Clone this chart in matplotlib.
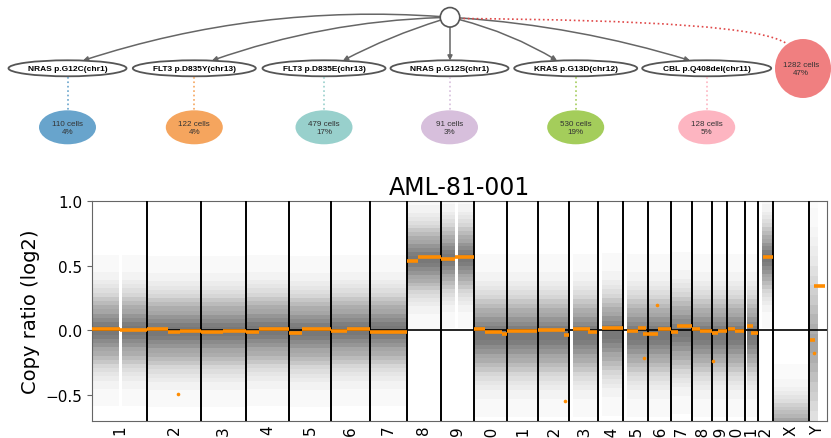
import numpy as np
import matplotlib
matplotlib.use("Agg")
import matplotlib.pyplot as plt
from matplotlib.patches import Ellipse, FancyArrowPatch, PathPatch
from matplotlib.path import Path

# clone tree data
mut_labels = ["NRAS p.G12C(chr1)", "FLT3 p.D835Y(chr13)", "FLT3 p.D835E(chr13)",
              "NRAS p.G12S(chr1)", "KRAS p.G13D(chr12)", "CBL p.Q408del(chr11)"]
leaf_cells = [110, 122, 479, 91, 530, 128]
leaf_pct = [4, 4, 17, 3, 19, 5]
leaf_colors = ["#68a4cc", "#f5a55e", "#98d0cc", "#d7bfdc", "#a4cd5b", "#fdb5c1"]
wt_cells = 1282
wt_pct = 47

# copy number data (x in plot units along the genome)
chrom_names = [str(i) for i in range(1, 23)] + ["X", "Y"]
chrom_edges = [0, 55.6, 109.3, 154.6, 197.6, 239.3, 278.3, 315, 349.3, 382.6, 415,
               446.3, 477.6, 506, 531.6, 556.3, 579, 600, 620.3, 635.6, 653.3, 666.6,
               681, 717.6, 735]

# cloud of bins: range, centre, spread, density weight
cloud_x0 = [0, 30.5, 55.6, 109.3, 154.6, 197.6, 239.3, 278.3, 315, 349.3, 366.3, 382.6,
            415, 446.3, 481.6, 510, 535.6, 556.3, 579, 600, 620.3, 635.6, 655.6, 670, 681.5, 718]
cloud_x1 = [27.6, 55.6, 109.3, 154.6, 197.6, 239.3, 278.3, 315, 349.3, 363.3, 382.6, 415,
            446.3, 477.6, 506, 531.6, 556.3, 579, 600, 620.3, 635.6, 653.3, 666.6, 680, 716.5, 726]
cloud_mid = [0.0, 0.0, -0.01, -0.01, 0.0, -0.01, 0.0, 0.0, 0.55, 0.56, 0.56, -0.04,
             -0.04, -0.04, -0.04, -0.03, -0.04, -0.04, -0.02, -0.04, -0.04, -0.04, -0.04, 0.56, -0.8, -0.1]
cloud_sd = [0.13, 0.13, 0.13, 0.13, 0.13, 0.13, 0.13, 0.13, 0.12, 0.12, 0.12, 0.14,
            0.14, 0.14, 0.14, 0.14, 0.14, 0.14, 0.14, 0.14, 0.14, 0.14, 0.14, 0.12, 0.12, 0.3]
cloud_w = [1, 1, 1, 1, 1, 1, 1, 1, 1, 1, 1, 1, 1, 1, 1, 1, 1, 1, 1, 1, 1, 1, 1, 1, 0.8, 0.5]

# segment means
seg_x0 = [0, 28.3, 55.6, 76.6, 88.3, 109.3, 131, 154.6, 167.6, 197.6, 210, 239.3, 255,
          278.3, 315, 326.3, 349.3, 363.3, 382.6, 393.3, 410, 415, 446.3, 472.3, 481.6,
          496.3, 510, 535.3, 546.3, 551.6, 556.3, 566.6, 579, 585, 600, 608.3, 620.3,
          626.6, 636.6, 643.3, 655.6, 659, 671, 718.3, 722.3]
seg_x1 = [28.3, 55.6, 76.6, 88.3, 109.3, 131, 154.6, 167.6, 197.6, 210, 239.3, 255, 278.3,
          315, 326.3, 349.3, 363.3, 382.6, 393.3, 410, 415, 445, 473.3, 477.6, 498.3,
          505.3, 531.6, 546.3, 554.3, 556.3, 566.6, 579, 586.3, 600, 608.3, 620, 626.6,
          635, 643.3, 652.6, 661.6, 666.6, 681, 723.3, 733.3]
seg_y = [0.01, 0.0, 0.01, -0.01, -0.003, -0.01, -0.003, -0.012, 0.008, -0.02, 0.008,
         -0.008, 0.008, -0.013, 0.54, 0.565, 0.55, 0.572, 0.013, -0.016, -0.026, -0.005,
         0.005, -0.036, 0.01, -0.016, 0.016, -0.005, 0.016, -0.03, -0.03, 0.008, -0.01,
         0.034, 0.01, -0.003, -0.023, -0.003, 0.008, -0.005, 0.03, -0.018, 0.567,
         -0.073, 0.345]
dot_x = [86.6, 473.6, 552.6, 565, 621.6, 722.6]
dot_y = [-0.49, -0.547, -0.215, 0.2, -0.238, -0.176]

fig = plt.figure(figsize=(8.31, 4.39), dpi=100)

# ---- tree panel, drawn in pixel units
tree = fig.add_axes([0, 0, 1, 1])
tree.set_xlim(0, 831)
tree.set_ylim(439, 0)
tree.axis("off")

node_x = [67.5, 194.3, 324, 449.5, 575.7, 706.7]
node_w = [118, 123, 123, 118, 123, 129]
arrow_x = [83, 212, 343, 450, 557, 690]
rads = [0.1, 0.08, 0.05, 0.0, -0.08, -0.06]
root = (450, 18.3)

tree.add_patch(Ellipse(root, 19.5, 19.5, fc="white", ec="#555555", lw=1.2, zorder=3))
for i in range(len(mut_labels)):
    arr = FancyArrowPatch(root, (arrow_x[i], 61.5), connectionstyle="arc3,rad=%s" % rads[i],
                          arrowstyle="-|>", mutation_scale=7, color="#666666", lw=1.1,
                          shrinkA=7, shrinkB=0)
    tree.add_patch(arr)
    tree.add_patch(Ellipse((node_x[i], 69.3), node_w[i], 16, fc="white", ec="#555555", lw=1.3))
    tree.text(node_x[i], 69.5, mut_labels[i], ha="center", va="center", fontsize=6,
              fontweight="bold", family="Liberation Sans")
    tree.plot([node_x[i], node_x[i]], [77.5, 111], ls=":", color=leaf_colors[i], lw=1.2)
    tree.add_patch(Ellipse((node_x[i], 128.3), 57, 34, fc=leaf_colors[i], ec="none"))
    tree.text(node_x[i], 128.5, "%d cells\n%d%%" % (leaf_cells[i], leaf_pct[i]), ha="center",
              va="center", fontsize=5.8, color="#333333", family="Liberation Sans", linespacing=1.2)

red_path = Path([(459, 19.5), (650, 21), (765, 28), (787, 45)],
                [Path.MOVETO, Path.CURVE4, Path.CURVE4, Path.CURVE4])
tree.add_patch(PathPatch(red_path, fc="none", ec="#e04848", lw=1.2, ls=":"))
tree.add_patch(Ellipse((803, 69.5), 56, 59, fc="#f07f80", ec="none", zorder=3))
tree.text(801, 69.5, "%d cells\n%d%%" % (wt_cells, wt_pct), ha="center", va="center",
          fontsize=5.8, color="#333333", family="Liberation Sans", linespacing=1.2, zorder=4)

# ---- copy ratio panel
ax = fig.add_axes([91.7 / 831, 17.3 / 439, 735 / 831, 219.4 / 439])
band_k = [0.25, 0.5, 0.75, 1.0, 1.25, 1.5, 1.75, 2.0, 2.25, 2.5, 2.75, 3.0, 3.5, 4.5]
band_a = [0.16, 0.16, 0.16, 0.16, 0.1, 0.1, 0.1, 0.1, 0.05, 0.05, 0.04, 0.04, 0.03, 0.03]
for x0, x1, m, s, w in zip(cloud_x0, cloud_x1, cloud_mid, cloud_sd, cloud_w):
    for k, a in zip(band_k, band_a):
        ax.fill_between([x0, x1], m - k * s, m + k * s, color="#505050", alpha=a * w, lw=0)

for e in chrom_edges[1:-1]:
    ax.axvline(e, color="black", lw=1.4, zorder=3)
ax.axhline(0, color="black", lw=1.2, zorder=3)

ax.hlines(seg_y, seg_x0, seg_x1, color="#ff8c00", lw=2.6, zorder=4)
ax.plot(dot_x, dot_y, "o", color="#ff8c00", ms=2.6, mec="none", zorder=4)

mids = [(chrom_edges[i] + chrom_edges[i + 1]) / 2 for i in range(len(chrom_names))]
ax.set_xticks(mids)
ax.set_xticklabels(chrom_names, rotation=90, fontsize=11)
ax.tick_params(axis="x", length=0, pad=3)
ax.tick_params(axis="y", labelsize=11, color="#666666")
ax.set_xlim(0, 735)
ax.set_ylim(-0.7, 1.0)
ax.set_yticks([-0.5, 0.0, 0.5, 1.0])
ax.set_ylabel("Copy ratio (log2)", fontsize=14)
ax.set_title("AML-81-001", fontsize=17, pad=5)
for sp in ax.spines.values():
    sp.set_color("#666666")

fig.savefig("out.png", dpi=100)
